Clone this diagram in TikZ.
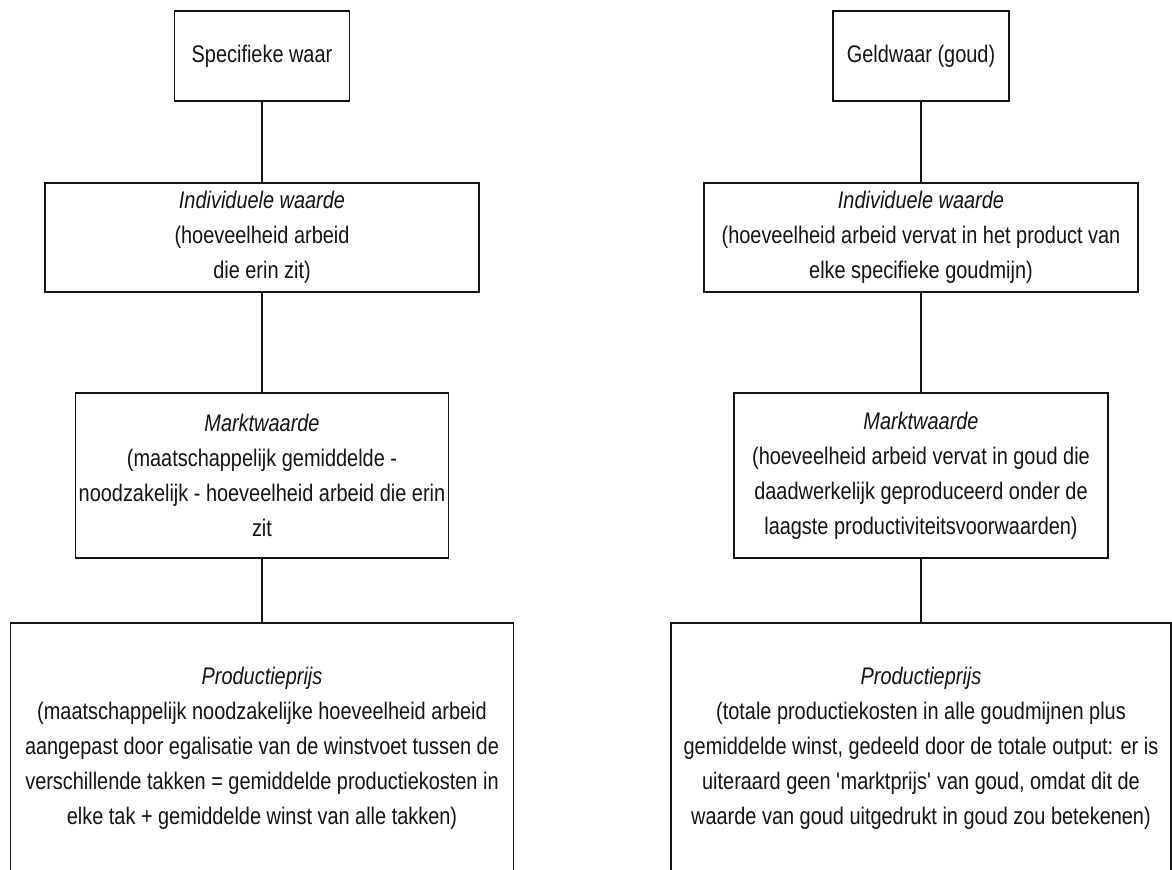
\documentclass[tikz,border=0pt]{standalone}
\usepackage{fontspec}
\setmainfont{Liberation Sans}[FakeStretch=0.83]
\usetikzlibrary{positioning}
\definecolor{ink}{RGB}{20,20,20}
\tikzset{
  every picture/.style={color=ink, line width=1.4pt},
  box/.style={draw=ink, fill=white, inner sep=0pt, align=center, text=ink, font=\fontsize{18}{26.25}\selectfont},
  dims/.style 2 args={minimum width=#1*0.75pt, minimum height=#2*0.75pt},
  link/.style={draw=ink, line width=1.4pt},
}

\begin{document}
\begin{tikzpicture}[x=0.75pt, y=-0.75pt]
  % two columns: a specific commodity and the money commodity, each going down from value to price
  \useasboundingbox (0,0) rectangle (1172,870);
  \node[box, dims={175}{90}] (spec) at (262,56) {Specifieke waar};
  \node[box, dims={434}{109}] (indivL) at (262,237.5) {\textit{Individuele waarde}\\(hoeveelheid arbeid\\die erin zit)};
  \node[box, dims={373}{165}] (marktL) at (262,475.5) {\textit{Marktwaarde}\\(maatschappelijk gemiddelde -\\noodzakelijk - hoeveelheid arbeid die erin\\zit};
  \node[box, dims={503}{250}] (prijsL) at (262,748) {\textit{Productieprijs}\\(maatschappelijk noodzakelijke hoeveelheid arbeid\\aangepast door egalisatie van de winstvoet tussen de\\verschillende takken = gemiddelde productiekosten in\\elke tak + gemiddelde winst van alle takken)};
  \node[box, dims={176}{90}] (geld) at (921,56) {Geldwaar (goud)};
  \node[box, dims={434}{109}] (indivR) at (921,237.5) {\textit{Individuele waarde}\\(hoeveelheid arbeid vervat in het product van\\elke specifieke goudmijn)};
  \node[box, dims={374}{165}] (marktR) at (921,475.5) {\textit{Marktwaarde}\\(hoeveelheid arbeid vervat in goud die\\daadwerkelijk geproduceerd onder de\\laagste productiviteitsvoorwaarden)};
  \node[box, dims={500}{250}] (prijsR) at (921,748) {\textit{Productieprijs}\\(totale productiekosten in alle goudmijnen plus\\gemiddelde winst, gedeeld door de totale output: er is\\uiteraard geen \textquotesingle marktprijs\textquotesingle{} van goud, omdat dit de\\waarde van goud uitgedrukt in goud zou betekenen)};
  \foreach \a/\b in {spec/indivL, indivL/marktL, marktL/prijsL, geld/indivR, indivR/marktR, marktR/prijsR} { \draw[link] (\a) -- (\b); }
\end{tikzpicture}
\end{document}
